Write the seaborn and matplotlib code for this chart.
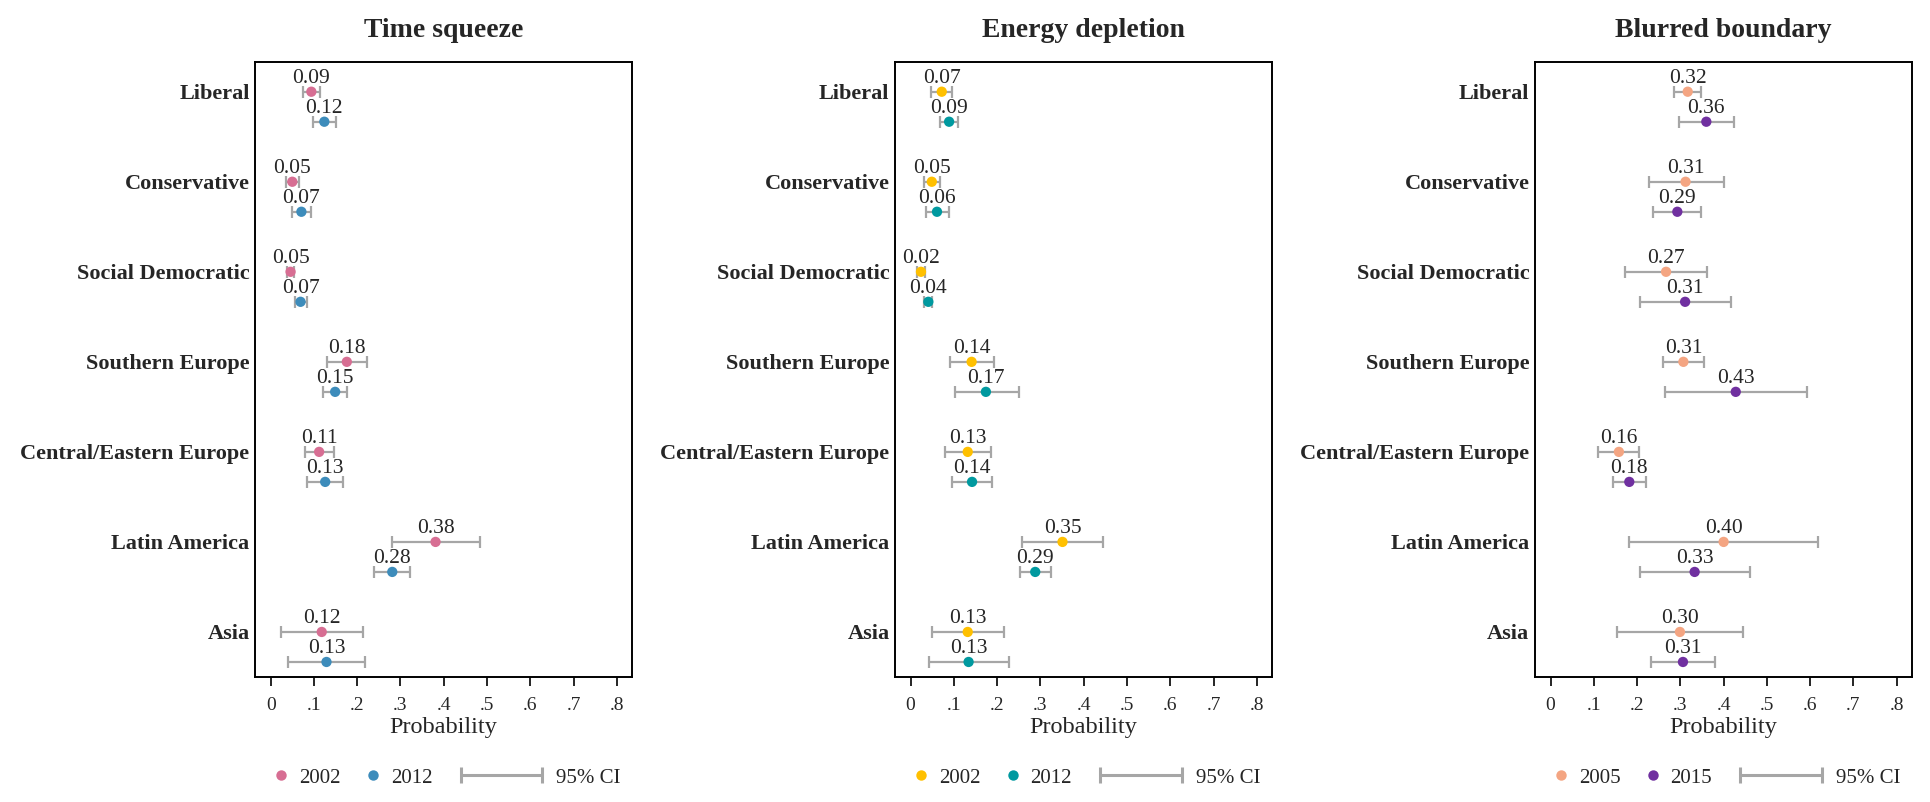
import numpy as np
import pandas as pd
import matplotlib
matplotlib.use('Agg')
import matplotlib.pyplot as plt
import seaborn as sns
from matplotlib.lines import Line2D
from matplotlib.legend_handler import HandlerLine2D

# 数据
regions = ['Liberal', 'Conservative', 'Social Democratic', 'Southern Europe',
           'Central/Eastern Europe', 'Latin America', 'Asia']
titles = ['Time squeeze', 'Energy depletion', 'Blurred boundary']
years = [['2002', '2012'], ['2002', '2012'], ['2005', '2015']]
colors = [['#D76E93', '#3D8CBB'], ['#FFC000', '#00999F'], ['#F4A582', '#7030A0']]
xticks = [0, .1, .2, .3, .4, .5, .6, .7, .8]
xticklabels = ['0', '.1', '.2', '.3', '.4', '.5', '.6', '.7', '.8']

# Time squeeze
ts_est_a = [0.094, 0.050, 0.046, 0.176, 0.112, 0.381, 0.118]
ts_lo_a = [0.074, 0.035, 0.037, 0.131, 0.080, 0.280, 0.023]
ts_hi_a = [0.115, 0.065, 0.055, 0.222, 0.146, 0.484, 0.213]
ts_est_b = [0.124, 0.071, 0.069, 0.149, 0.126, 0.281, 0.129]
ts_lo_b = [0.098, 0.050, 0.056, 0.122, 0.085, 0.239, 0.040]
ts_hi_b = [0.152, 0.093, 0.084, 0.177, 0.168, 0.323, 0.219]

# Energy depletion
ed_est_a = [0.072, 0.049, 0.024, 0.141, 0.132, 0.351, 0.132]
ed_lo_a = [0.047, 0.031, 0.014, 0.091, 0.080, 0.258, 0.050]
ed_hi_a = [0.095, 0.067, 0.034, 0.193, 0.185, 0.445, 0.215]
ed_est_b = [0.089, 0.061, 0.041, 0.174, 0.142, 0.288, 0.134]
ed_lo_b = [0.069, 0.036, 0.032, 0.103, 0.095, 0.252, 0.043]
ed_hi_b = [0.110, 0.088, 0.050, 0.250, 0.189, 0.324, 0.227]

# Blurred boundary
bb_est_a = [0.317, 0.312, 0.267, 0.307, 0.158, 0.400, 0.299]
bb_lo_a = [0.285, 0.227, 0.173, 0.260, 0.110, 0.182, 0.153]
bb_hi_a = [0.348, 0.400, 0.361, 0.354, 0.204, 0.617, 0.445]
bb_est_b = [0.360, 0.293, 0.311, 0.428, 0.182, 0.333, 0.306]
bb_lo_b = [0.298, 0.237, 0.206, 0.264, 0.144, 0.207, 0.232]
bb_hi_b = [0.424, 0.348, 0.417, 0.593, 0.221, 0.460, 0.379]

panels = [
    [(ts_est_a, ts_lo_a, ts_hi_a), (ts_est_b, ts_lo_b, ts_hi_b)],
    [(ed_est_a, ed_lo_a, ed_hi_a), (ed_est_b, ed_lo_b, ed_hi_b)],
    [(bb_est_a, bb_lo_a, bb_hi_a), (bb_est_b, bb_lo_b, bb_hi_b)],
]

sns.set_style('white')
plt.rcParams['font.family'] = ['Liberation Serif', 'DejaVu Serif']

ci_color = '#A6A6A6'
fig = plt.figure(figsize=(19.31, 8.02), dpi=100)
lefts = [0.1321, 0.4635, 0.7949]

for k in range(3):
    ax = fig.add_axes([lefts[k], 0.1559, 0.1952, 0.7668])
    rows = []
    for j in range(2):
        est, lo, hi = panels[k][j]
        for i, r in enumerate(regions):
            rows.append({'region': r, 'year': years[k][j], 'est': est[i],
                         'lo': lo[i], 'hi': hi[i], 'pos': i + j / 3})
    df = pd.DataFrame(rows)

    # 置信区间
    ax.errorbar(df['est'], df['pos'],
                xerr=[df['est'] - df['lo'], df['hi'] - df['est']],
                fmt='none', ecolor=ci_color, elinewidth=1.6, capsize=4.2,
                capthick=1.6, zorder=2)
    sns.scatterplot(data=df, x='est', y='pos', hue='year',
                    palette=dict(zip(years[k], colors[k])), s=55,
                    edgecolor='none', legend=False, ax=ax, zorder=3)
    for _, row in df.iterrows():
        ax.annotate('{:.2f}'.format(row['est']), (row['est'], row['pos']),
                    xytext=(0, 6.5), textcoords='offset points',
                    ha='center', va='baseline', fontsize=15.5)

    ax.set_xlim(-0.036, 0.835)
    ax.set_ylim(6.5, -0.33)
    ax.set_yticks(range(len(regions)))
    ax.set_yticklabels(regions, fontsize=16, fontweight='bold')
    ax.set_xticks(xticks)
    ax.set_xticklabels(xticklabels, fontsize=14)
    ax.tick_params(axis='y', length=0, pad=4)
    ax.tick_params(axis='x', direction='out', length=6.5, width=1.2,
                   color='black', pad=8, bottom=True)
    ax.set_xlabel('Probability', fontsize=17.5, labelpad=2)
    ax.set_ylabel('')
    ax.set_title(titles[k], fontsize=20, fontweight='bold', pad=18)
    for sp in ax.spines.values():
        sp.set_visible(True)
        sp.set_color('black')
        sp.set_linewidth(1.4)

    # 图例
    h1 = [Line2D([0], [0], marker='o', linestyle='none', markersize=7.5,
                 markerfacecolor=c, markeredgecolor='none') for c in colors[k]]
    leg1 = ax.legend(h1, years[k], loc='center left',
                     bbox_to_anchor=(0.045, -0.164), ncol=2, frameon=False,
                     fontsize=15, handlelength=0.9, handletextpad=0.4,
                     columnspacing=1.1, borderpad=0, borderaxespad=0)
    ax.add_artist(leg1)
    h2 = Line2D([0], [0], color=ci_color, linewidth=2.2, marker='|',
                markersize=12, markeredgewidth=2.2)
    ax.legend([h2], ['95% CI'], loc='center left',
              bbox_to_anchor=(0.545, -0.164), frameon=False, fontsize=15,
              handlelength=3.9, handletextpad=0.7, borderpad=0,
              borderaxespad=0,
              handler_map={h2: HandlerLine2D(numpoints=2, marker_pad=0)})

fig.savefig('out.png', dpi=100)
